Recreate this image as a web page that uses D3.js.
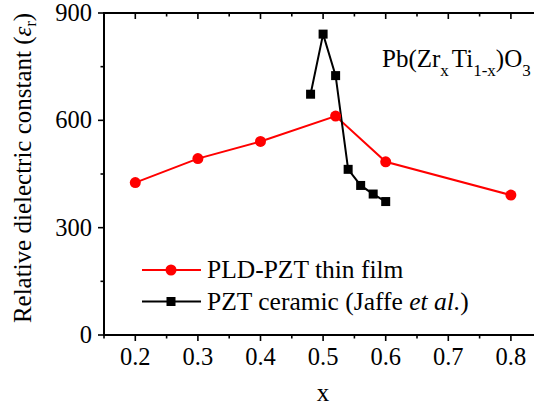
<!DOCTYPE html>
<html><head><meta charset="utf-8">
<script src="https://cdn.jsdelivr.net/npm/d3@7"></script>
<style>body{margin:0;background:#fff}svg{display:block}</style>
</head><body>
<svg id="c" width="534" height="407"></svg>
<script>
const filmX = [0.2, 0.3, 0.4, 0.52, 0.6, 0.8];
const filmY = [426, 493, 541, 612, 484, 391];
const ceramicX = [0.48, 0.50, 0.52, 0.54, 0.56, 0.58, 0.60];
const ceramicY = [673, 841, 725, 463, 418, 394, 373];
const xTicks = [0.2, 0.3, 0.4, 0.5, 0.6, 0.7, 0.8];
const yTicks = [0, 300, 600, 900];
const seriesNames = ["PLD-PZT thin film", "PZT ceramic (Jaffe "];
const FF = '"Liberation Serif"';

const svg = d3.select("#c");
const L = 104, T = 13, B = 335;
const x = d3.scaleLinear().domain([0.15, 0.85]).range([L, L + 626*0.7]);
const y = d3.scaleLinear().domain([0, 900]).range([B, T]);
const R = x(0.85);
const txt = (sel) => sel.append("text").style("font-family", FF);

const g = svg.append("g");
const xMinor = d3.range(0.15, 0.851, 0.05).map(v => +v.toFixed(2));
xMinor.forEach(v => {
  const major = Math.abs(v*10 - Math.round(v*10)) < 1e-6;
  const len = major ? 6 : 3.5;
  g.append("line").attr("x1", x(v)).attr("x2", x(v)).attr("y1", B).attr("y2", B + len).attr("stroke", "#000").attr("stroke-width", 1.6);
  g.append("line").attr("x1", x(v)).attr("x2", x(v)).attr("y1", T).attr("y2", T + len).attr("stroke", "#000").attr("stroke-width", 1.6);
});
[0,150,300,450,600,750,900].forEach(v => {
  const major = v % 300 === 0;
  const len = major ? 6 : 3.5;
  g.append("line").attr("x1", L - len).attr("x2", L).attr("y1", y(v)).attr("y2", y(v)).attr("stroke", "#000").attr("stroke-width", 1.6);
});
g.append("line").attr("x1", L).attr("x2", L).attr("y1", T).attr("y2", B).attr("stroke", "#000").attr("stroke-width", 2);
g.append("line").attr("x1", L - 1).attr("x2", R).attr("y1", B).attr("y2", B).attr("stroke", "#000").attr("stroke-width", 2);
g.append("line").attr("x1", L - 1).attr("x2", R).attr("y1", T).attr("y2", T).attr("stroke", "#000").attr("stroke-width", 2);

xTicks.forEach(v => txt(g).attr("x", x(v)).attr("y", B + 30).attr("text-anchor", "middle").attr("font-size", 24.5).text(v.toFixed(1)));
yTicks.forEach(v => txt(g).attr("x", L - 12).attr("y", y(v) + 8).attr("text-anchor", "end").attr("font-size", 24.5).text(v));

txt(svg).attr("x", x(0.5)).attr("y", 401).attr("text-anchor", "middle").attr("font-size", 25).text("x");
const yl = txt(svg).attr("transform", `translate(31,168) rotate(-90)`).attr("text-anchor", "middle").attr("font-size", 25);
yl.append("tspan").text("Relative dielectric constant (");
yl.append("tspan").attr("font-style", "italic").text("ε");
yl.append("tspan").attr("font-size", 16).attr("dy", 5).text("r");
yl.append("tspan").attr("dy", -5).text(")");

const line = d3.line().x(d => x(d[0])).y(d => y(d[1]));
const film = filmX.map((v, i) => [v, filmY[i]]);
const cer = ceramicX.map((v, i) => [v, ceramicY[i]]);
svg.append("path").attr("d", line(film)).attr("fill", "none").attr("stroke", "#ff0000").attr("stroke-width", 2);
svg.append("path").attr("d", line(cer)).attr("fill", "none").attr("stroke", "#000").attr("stroke-width", 2);
svg.selectAll(".c").data(film).enter().append("circle").attr("cx", d => x(d[0])).attr("cy", d => y(d[1])).attr("r", 5.5).attr("fill", "#ff0000");
svg.selectAll(".s").data(cer).enter().append("rect").attr("x", d => x(d[0]) - 4.5).attr("y", d => y(d[1]) - 4.5).attr("width", 9).attr("height", 9).attr("fill", "#000");

const lg = svg.append("g");
const legY = [270, 301.5];
lg.append("line").attr("x1", 142).attr("x2", 201).attr("y1", legY[0]).attr("y2", legY[0]).attr("stroke", "#ff0000").attr("stroke-width", 2);
lg.append("circle").attr("cx", 171).attr("cy", legY[0]).attr("r", 5.5).attr("fill", "#ff0000");
lg.append("line").attr("x1", 142).attr("x2", 201).attr("y1", legY[1]).attr("y2", legY[1]).attr("stroke", "#000").attr("stroke-width", 2);
lg.append("rect").attr("x", 171 - 4.5).attr("y", legY[1] - 4.5).attr("width", 9).attr("height", 9).attr("fill", "#000");
txt(lg).attr("x", 207).attr("y", legY[0] + 8).attr("font-size", 25.5).text(seriesNames[0]);
const t2 = txt(lg).attr("x", 207).attr("y", legY[1] + 8).attr("font-size", 25.5);
t2.append("tspan").text(seriesNames[1]);
t2.append("tspan").attr("font-style", "italic").text("et al.");
t2.append("tspan").text(")");

const f = txt(svg).attr("x", 382).attr("y", 67).attr("font-size", 25);
f.append("tspan").text("Pb(Zr");
f.append("tspan").attr("font-size", 17).attr("dy", 9).text("x");
f.append("tspan").attr("dx", 3).attr("dy", -9).text("Ti");
f.append("tspan").attr("font-size", 17).attr("dy", 9).text("1-x");
f.append("tspan").attr("dy", -9).text(")O");
f.append("tspan").attr("font-size", 17).attr("dy", 9).text("3");
</script>
</body></html>
